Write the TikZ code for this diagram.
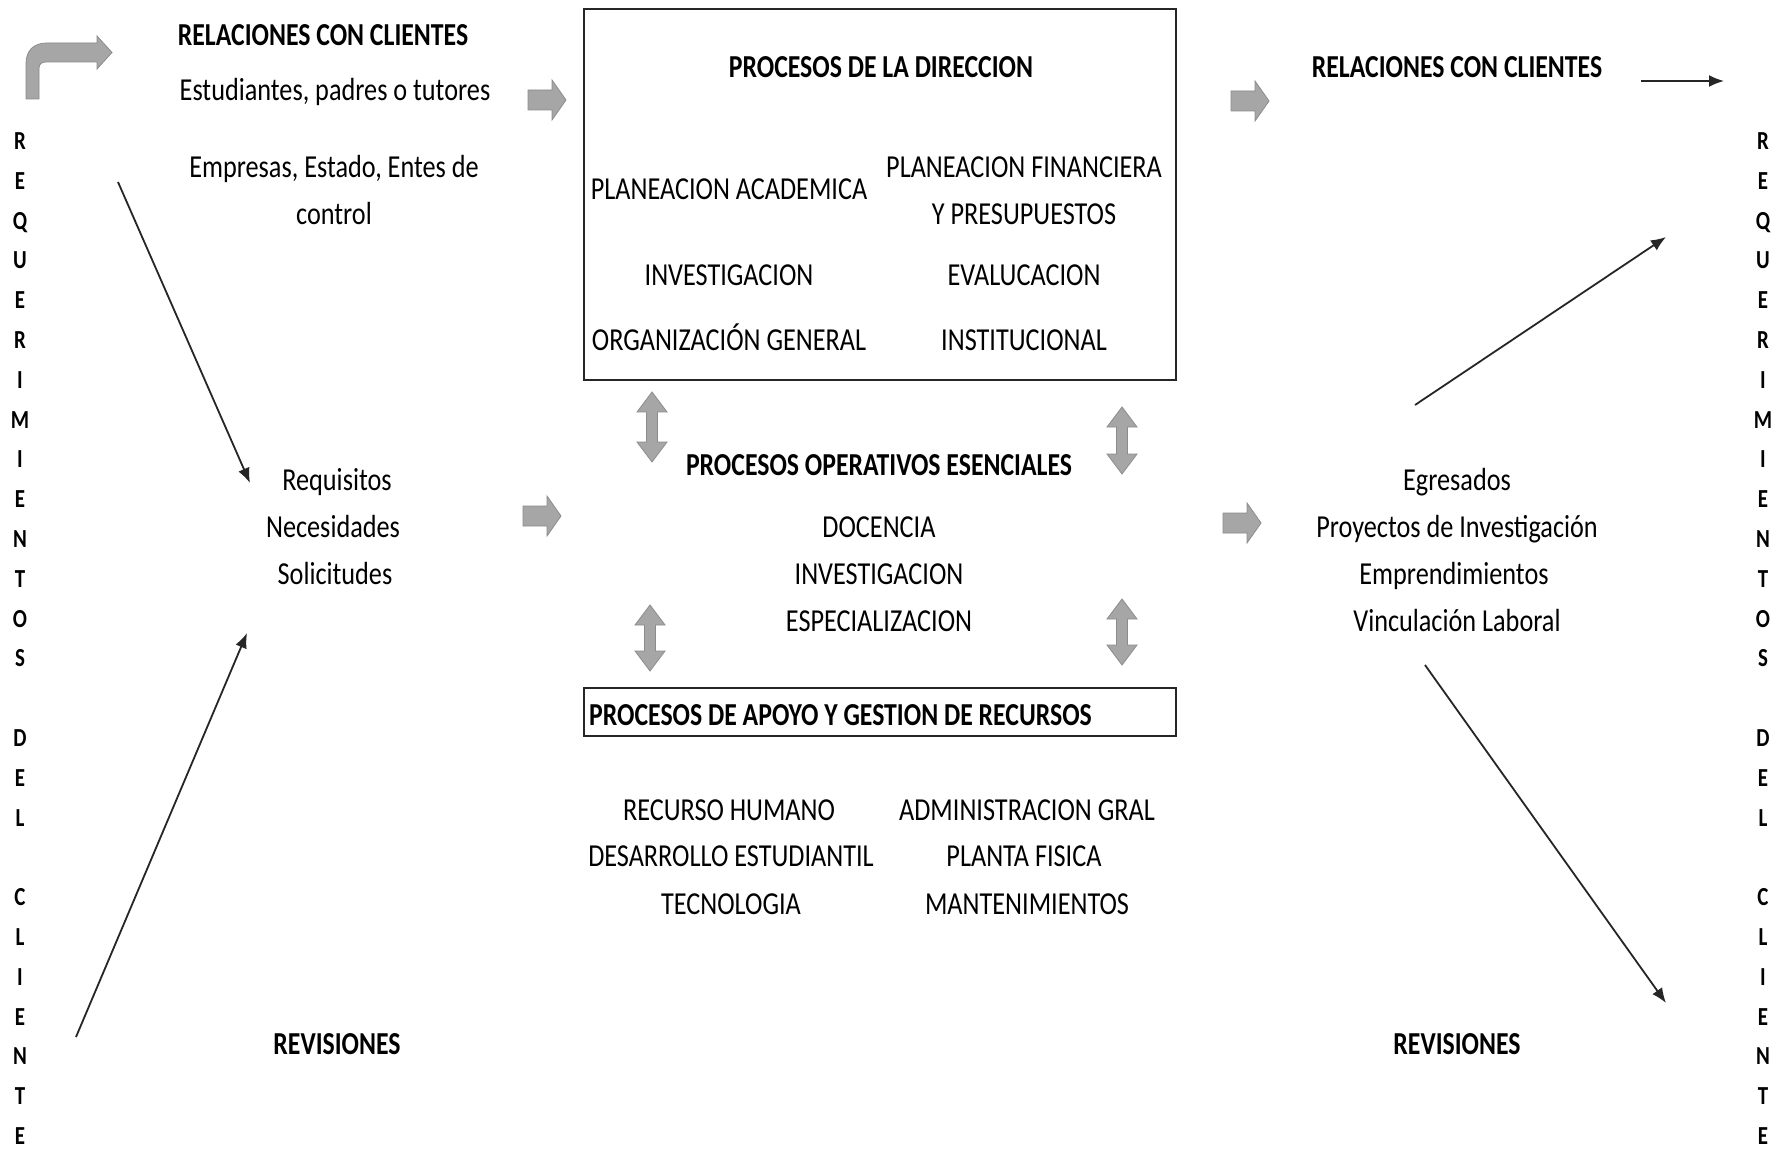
\documentclass[tikz,border=0pt]{standalone}
\usepackage{fontspec}
\setmainfont{Carlito}[FakeStretch=0.82, BoldFeatures={FakeStretch=0.805}]
\usetikzlibrary{arrows.meta}
\definecolor{gfill}{HTML}{A6A6A6}
\definecolor{gline}{HTML}{8C8C8C}
\tikzset{
  t/.style={anchor=base, yshift=-10pt, inner sep=0pt, font=\fontsize{32}{38}\selectfont},
  tb/.style={t, font=\fontsize{32}{38}\selectfont\bfseries},
  letter/.style={anchor=base, yshift=-8.5pt, inner sep=0pt, font=\fontsize{26}{30}\selectfont\bfseries},
  frame/.style={draw=black!85, line width=2.5pt, inner sep=0pt},
  garrow/.style={fill=gfill, draw=gline, line width=0.8pt, line join=miter},
  conn/.style={draw=black!85, line width=1.8pt, -{Latex[length=15pt,width=12pt]}},
}
\newcommand\rblock[2]{%
  \filldraw[garrow] (#1,#2-10) -- (#1+24,#2-10) -- (#1+24,#2-20) -- (#1+38,#2)
    -- (#1+24,#2+20) -- (#1+24,#2+10) -- (#1,#2+10) -- cycle;}
\newcommand\vdblock[3]{%
  \filldraw[garrow] (#1,#2) -- (#1+15,#2+20) -- (#1+5.5,#2+20) -- (#1+5.5,#3-20)
    -- (#1+15,#3-20) -- (#1,#3) -- (#1-15,#3-20) -- (#1-5.5,#3-20)
    -- (#1-5.5,#2+20) -- (#1-15,#2+20) -- cycle;}
\begin{document}
\begin{tikzpicture}[x=1pt, y=-1pt]
\fill[white] (0,0) rectangle (1783,1155);
\useasboundingbox (0,0) rectangle (1783,1155);

% boxes
\node[frame, minimum width=592pt, minimum height=371pt] (dirbox) at (880,194.5) {};
\node[frame, minimum width=592pt, minimum height=48pt] (apbox) at (880,712) {};

% left column
\node[tb] (relL) at (323,36) {RELACIONES CON CLIENTES};
\node[t] (est) at (335,91) {Estudiantes, padres o tutores};
\node[t] (emp1) at (334,168) {Empresas, Estado, Entes de};
\node[t] (emp2) at (334,215) {control};
\node[t] (req) at (337,480) {Requisitos};
\node[t] (nec) at (333,527) {Necesidades};
\node[t] (sol) at (335,574) {Solicitudes};
\node[tb] (revL) at (337,1044) {REVISIONES};

% direction box
\node[tb] (dirT) at (881,68) {PROCESOS DE LA DIRECCION};
\node[t] (pa) at (729,190) {PLANEACION ACADEMICA};
\node[t] (pf1) at (1024,168) {PLANEACION FINANCIERA};
\node[t] (pf2) at (1024,215) {Y PRESUPUESTOS};
\node[t] (inv1) at (729,276) {INVESTIGACION};
\node[t] (eva) at (1024,276) {EVALUCACION};
\node[t] (org) at (729,341) {ORGANIZACIÓN GENERAL};
\node[t] (ins) at (1024,341) {INSTITUCIONAL};

% operative
\node[tb] (opT) at (879,465) {PROCESOS OPERATIVOS ESENCIALES};
\node[t] (doc) at (879,527) {DOCENCIA};
\node[t] (inv2) at (879,574) {INVESTIGACION};
\node[t] (esp) at (879,621) {ESPECIALIZACION};

% support
\node[tb, anchor=base west] (apT) at (589,715) {PROCESOS DE APOYO Y GESTION DE RECURSOS};
\node[t] (rh) at (729,810) {RECURSO HUMANO};
\node[t] (de) at (731,856) {DESARROLLO ESTUDIANTIL};
\node[t] (tec) at (731,904) {TECNOLOGIA};
\node[t] (adm) at (1027,810) {ADMINISTRACION GRAL};
\node[t] (pla) at (1024,856) {PLANTA FISICA};
\node[t] (man) at (1027,904) {MANTENIMIENTOS};

% right column
\node[tb] (relR) at (1457,68) {RELACIONES CON CLIENTES};
\node[t] (egr) at (1457,480) {Egresados};
\node[t] (pro) at (1457,527) {Proyectos de Investigación};
\node[t] (empr) at (1454,574) {Emprendimientos};
\node[t] (vin) at (1457,621) {Vinculación Laboral};
\node[tb] (revR) at (1457,1044) {REVISIONES};

% vertical letters
\foreach \l [count=\i from 0] in {R,E,Q,U,E,R,I,M,I,E,N,T,O,S,{},D,E,L,{},C,L,I,E,N,T,E}{
  \node[letter] (lL\i) at (20,141+39.8*\i) {\l};
  \node[letter] (lR\i) at (1763,141+39.8*\i) {\l};
}

% bent arrow
\filldraw[garrow] (26,99) -- (26,64) .. controls (26,51) and (33,43) .. (47,43)
  -- (97,43) -- (97,36) -- (112,52.5) -- (97,69) -- (97,62) -- (46,62)
  .. controls (42,62) and (39,64) .. (39,68) -- (39,99) -- cycle;

% gray block arrows
\rblock{528}{100}
\rblock{1231}{101}
\rblock{523}{516}
\rblock{1223}{523}

% double arrows
\vdblock{652}{392}{462}
\vdblock{1122}{407}{474}
\vdblock{650}{605}{671}
\vdblock{1122}{599}{665}

% black connectors
\coordinate (a1s) at (118,182);
\coordinate (a1e) at (250,483);
\coordinate (a2s) at (76,1037);
\coordinate (a2e) at (247,633);
\coordinate (a3s) at (1415,405);
\coordinate (a3e) at (1666,237);
\coordinate (a4s) at (1425,665);
\coordinate (a4e) at (1666,1003);
\coordinate (a5s) at (1641,81);
\coordinate (a5e) at (1724,81);
\draw[conn] (a1s) -- (a1e);
\draw[conn] (a2s) -- (a2e);
\draw[conn] (a3s) -- (a3e);
\draw[conn] (a4s) -- (a4e);
\draw[conn] (a5s) -- (a5e);
\end{tikzpicture}
\end{document}
